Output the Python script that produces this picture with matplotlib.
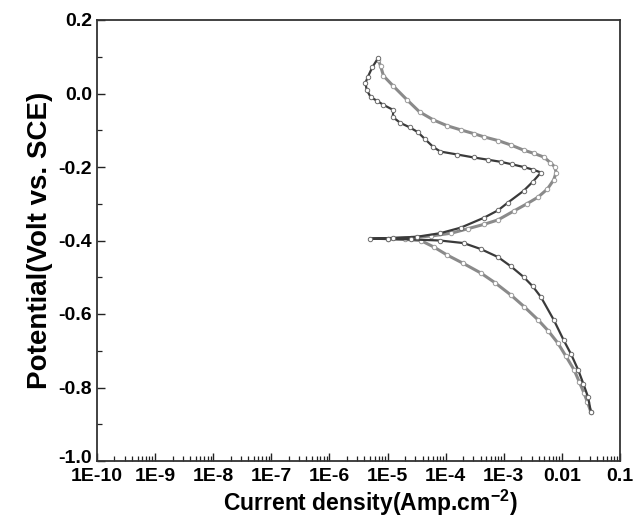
import matplotlib
matplotlib.use("Agg")
import matplotlib.pyplot as plt
import matplotlib.transforms as mtransforms
import numpy as np
from matplotlib.ticker import LogLocator, FixedLocator, MultipleLocator, NullFormatter

plt.rcParams['font.family'] = ['Liberation Sans', 'DejaVu Sans']
plt.rcParams['font.weight'] = 'bold'
plt.rcParams['mathtext.fontset'] = 'custom'
plt.rcParams['mathtext.bf'] = 'Liberation Sans:bold'
plt.rcParams['mathtext.rm'] = 'Liberation Sans:bold'

# Sample A (darker trace): log10 of current density and potential, cathodic end -> passive end
a_log_i = [-1.50, -1.55, -1.63, -1.72, -1.84, -1.97, -2.14, -2.36, -2.50, -2.66,
           -2.88, -3.10, -3.40, -3.69, -4.10, -4.60, -5.00, -5.30,
           -4.90, -4.50, -4.09, -3.74, -3.34, -3.10, -2.93, -2.66, -2.50, -2.36,
           -2.50, -2.66, -2.85, -3.05, -3.28, -3.52, -3.80, -4.09, -4.21, -4.35,
           -4.48, -4.62, -4.78, -4.91, -4.90, -5.07, -5.18, -5.29, -5.36, -5.38,
           -5.34, -5.26, -5.16]
a_pot = [-0.867, -0.826, -0.790, -0.752, -0.710, -0.671, -0.616, -0.554, -0.525, -0.499,
         -0.470, -0.445, -0.423, -0.407, -0.400, -0.397, -0.396, -0.395,
         -0.393, -0.390, -0.380, -0.365, -0.338, -0.318, -0.297, -0.265, -0.240, -0.215,
         -0.207, -0.200, -0.193, -0.186, -0.180, -0.174, -0.166, -0.158, -0.146, -0.125,
         -0.105, -0.092, -0.080, -0.064, -0.045, -0.031, -0.020, -0.010, 0.010, 0.029,
         0.045, 0.072, 0.097]

# Sample B (lighter trace)
b_log_i = [-1.50, -1.56, -1.62, -1.70, -1.79, -1.93, -2.07, -2.24, -2.41, -2.65,
           -2.88, -3.15, -3.40, -3.70, -3.97, -4.20, -4.43, -4.70, -5.00,
           -4.60, -4.26, -3.90, -3.62, -3.34, -3.10, -2.83, -2.60, -2.41, -2.25,
           -2.14, -2.10, -2.12,
           -2.20, -2.31, -2.48, -2.66, -2.88, -3.10, -3.34, -3.52, -3.74, -3.97,
           -4.21, -4.45, -4.66, -4.90, -5.07, -5.12, -5.16]
b_pot = [-0.867, -0.840, -0.815, -0.785, -0.752, -0.715, -0.679, -0.645, -0.616, -0.580,
         -0.548, -0.515, -0.488, -0.462, -0.440, -0.418, -0.400, -0.397, -0.395,
         -0.392, -0.388, -0.380, -0.368, -0.356, -0.344, -0.320, -0.300, -0.282, -0.260,
         -0.235, -0.215, -0.200,
         -0.188, -0.173, -0.163, -0.154, -0.140, -0.128, -0.118, -0.109, -0.099, -0.088,
         -0.072, -0.050, -0.018, 0.020, 0.048, 0.075, 0.092]

x_ticks = [1e-10, 1e-9, 1e-8, 1e-7, 1e-6, 1e-5, 1e-4, 1e-3, 1e-2, 1e-1]
x_tick_labels = ['1E-10', '1E-9', '1E-8', '1E-7', '1E-6', '1E-5', '1E-4', '1E-3', '0.01', '0.1']
y_ticks = [0.2, 0.0, -0.2, -0.4, -0.6, -0.8, -1.0]
y_tick_labels = ['0.2', '0.0', '-0.2', '-0.4', '-0.6', '-0.8', '-1.0']

fig = plt.figure(figsize=(6.35, 5.18), dpi=100)
ax = fig.add_axes([97 / 635, 1 - 461 / 518, (620 - 97) / 635, (461 - 20) / 518])

ax.plot(10 ** np.array(b_log_i), b_pot, color='#8a8a8a', lw=2.2, marker='o', ms=3.2,
        mfc='white', mec='#9a9a9a', mew=0.7, zorder=2)
ax.plot(10 ** np.array(a_log_i), a_pot, color='#3a3a3a', lw=1.6, marker='o', ms=3.2,
        mfc='white', mec='#6a6a6a', mew=0.7, zorder=3)

ax.set_xscale('log')
ax.set_xlim(1e-10, 0.1)
ax.set_ylim(-1.0, 0.2)

ax.xaxis.set_major_locator(FixedLocator(x_ticks))
ax.set_xticklabels(x_tick_labels)
ax.xaxis.set_minor_locator(LogLocator(base=10, subs=np.arange(2, 10), numticks=20))
ax.xaxis.set_minor_formatter(NullFormatter())
ax.yaxis.set_major_locator(FixedLocator(y_ticks))
ax.set_yticklabels(y_tick_labels)
ax.yaxis.set_minor_locator(MultipleLocator(0.1))

ax.tick_params(which='both', direction='in', top=False, right=False, colors='#222222',
               labelsize=14, labelcolor='black')
ax.tick_params(axis='x', which='major', pad=5)
ax.tick_params(which='major', length=6, width=1.0)
ax.tick_params(which='minor', length=3.5, width=0.9)
for lab in ax.get_xticklabels() + ax.get_yticklabels():
    lab.set_fontweight('bold')

# lift the bottom y label a little so it clears the first x label
bottom_lab = ax.get_yticklabels()[-1]
bottom_lab.set_transform(bottom_lab.get_transform() +
                         mtransforms.ScaledTranslation(0, 3 / 72, fig.dpi_scale_trans))

for sp in ax.spines.values():
    sp.set_linewidth(1.3)
    sp.set_color('#333333')

ax.set_xlabel(r'Current density(Amp.cm$^{\mathbf{-2}}$)', fontsize=16.5, fontweight='bold',
              labelpad=2)
ax.xaxis.label.set_x(0.522)
ax.set_ylabel('Potential(Volt vs. SCE)', fontsize=20, fontweight='bold', labelpad=4)

fig.savefig('out.png', dpi=100, facecolor='white')
